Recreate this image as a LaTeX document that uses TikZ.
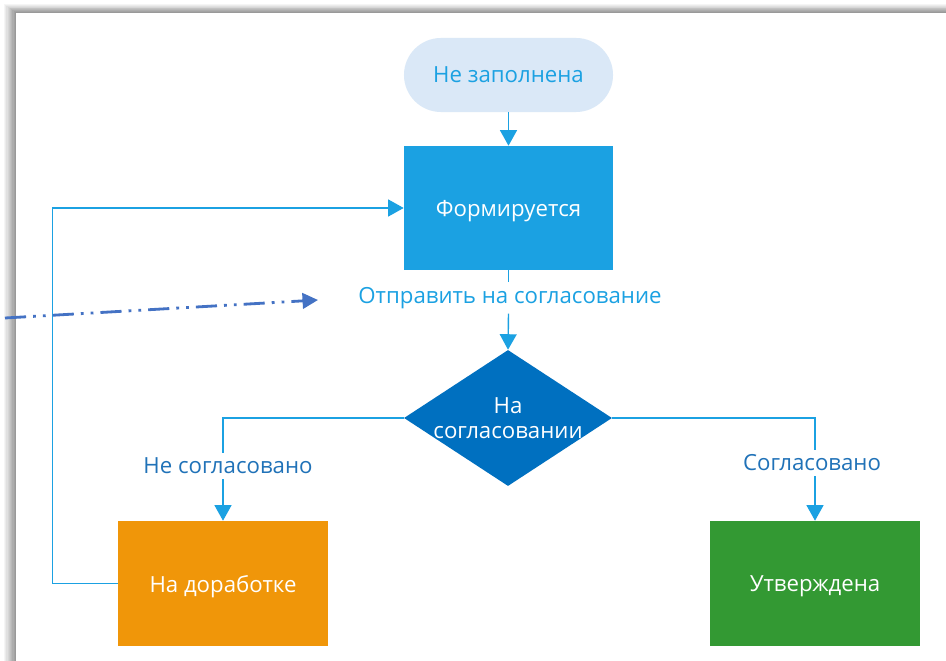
\documentclass[tikz,border=0pt]{standalone}
\usepackage{fontspec}
\setmainfont{Open Sans}
\usetikzlibrary{arrows.meta,shapes.geometric}

\definecolor{fondclair}{HTML}{DAE8F7}
\definecolor{bleuform}{HTML}{1BA1E2}
\definecolor{bleudecision}{HTML}{0070C0}
\definecolor{orangerev}{HTML}{F09609}
\definecolor{vertok}{HTML}{339933}
\definecolor{bleufonce}{HTML}{2072B8}
\definecolor{bleuext}{HTML}{4472C4}

\begin{document}
\begin{tikzpicture}[x=0.025cm,y=-0.025cm,
    every node/.style={font=\fontsize{15.8}{18}\selectfont},
    etat/.style={rectangle, text=white, inner sep=0pt, text depth=0pt,
      minimum width=5.25cm, minimum height=3.125cm},
    debut/.style={rectangle, rounded corners=0.925cm, fill=fondclair,
      text=bleuform, inner sep=0pt, minimum width=5.225cm, minimum height=1.85cm},
    decision/.style={diamond, fill=bleudecision, inner sep=0pt,
      minimum width=5.2cm, minimum height=3.4cm},
    txtbleu/.style={text=bleuform},
    txtfonce/.style={text=bleufonce},
    lien/.style={draw=bleuform, line width=1pt},
    fleche/.style={lien, -{Triangle[width=12pt,length=11pt]}},
    pointille/.style={draw=bleuext, line width=2pt,
      dash pattern=on 15pt off 5pt on 2pt off 5pt on 2pt off 5pt,
      -{Triangle[width=11pt,length=11pt]}}]
  \useasboundingbox (0,0) rectangle (946,661);
  \clip (0,0) rectangle (946,661);

  % Le cadre et son ombre
  \foreach \i [evaluate=\i as \g using 4+4*\i] in {0,...,9} {
    \fill[black!\g] (4+1.2*\i,4+0.9*\i) rectangle (990,700);
  }
  \fill[white] (16,13) rectangle (990,700);

  % Les états
  \node[debut] (nonrempli) at (508.5,75) {Не заполнена};
  \node[etat, fill=bleuform, minimum width=5.225cm, minimum height=3.1cm]
    (forme) at (508.5,208) {Формируется};
  \node[decision] (accord) at (508,418) {};
  \node[text=white, align=center] (accordtxt) at (508,418) {На\\согласовании};
  \node[etat, fill=orangerev] (revision) at (223,583.5) {На доработке};
  \node[etat, fill=vertok] (valide) at (815,583.5) {Утверждена};

  % Les étiquettes
  \node[txtbleu] (envoi) at (510,298) {Отправить на согласование};
  \node[txtfonce] (refus) at (228,466) {Не согласовано};
  \node[txtfonce] (accepte) at (812,463) {Согласовано};

  % Les transitions
  \draw[fleche] (nonrempli) -- (forme);
  \draw[lien] (forme.south) -- (forme.south |- envoi.north);
  \draw[fleche] (forme.south |- envoi.south) -- (accord.north);
  \draw[lien] (accord.west) -| (revision.north |- refus.north);
  \draw[fleche] (revision.north |- refus.south) -- (revision.north);
  \draw[lien] (accord.east) -| (valide.north |- accepte.north);
  \draw[fleche] (valide.north |- accepte.south) -- (valide.north);
  \draw[fleche] (revision.west) -- ++(-65,0) |- (forme.west);

  % Le lien externe
  \coordinate (ext) at (5,318);
  \coordinate (cible) at (318,300);
  \draw[pointille] (ext) -- (cible);
\end{tikzpicture}
\end{document}
